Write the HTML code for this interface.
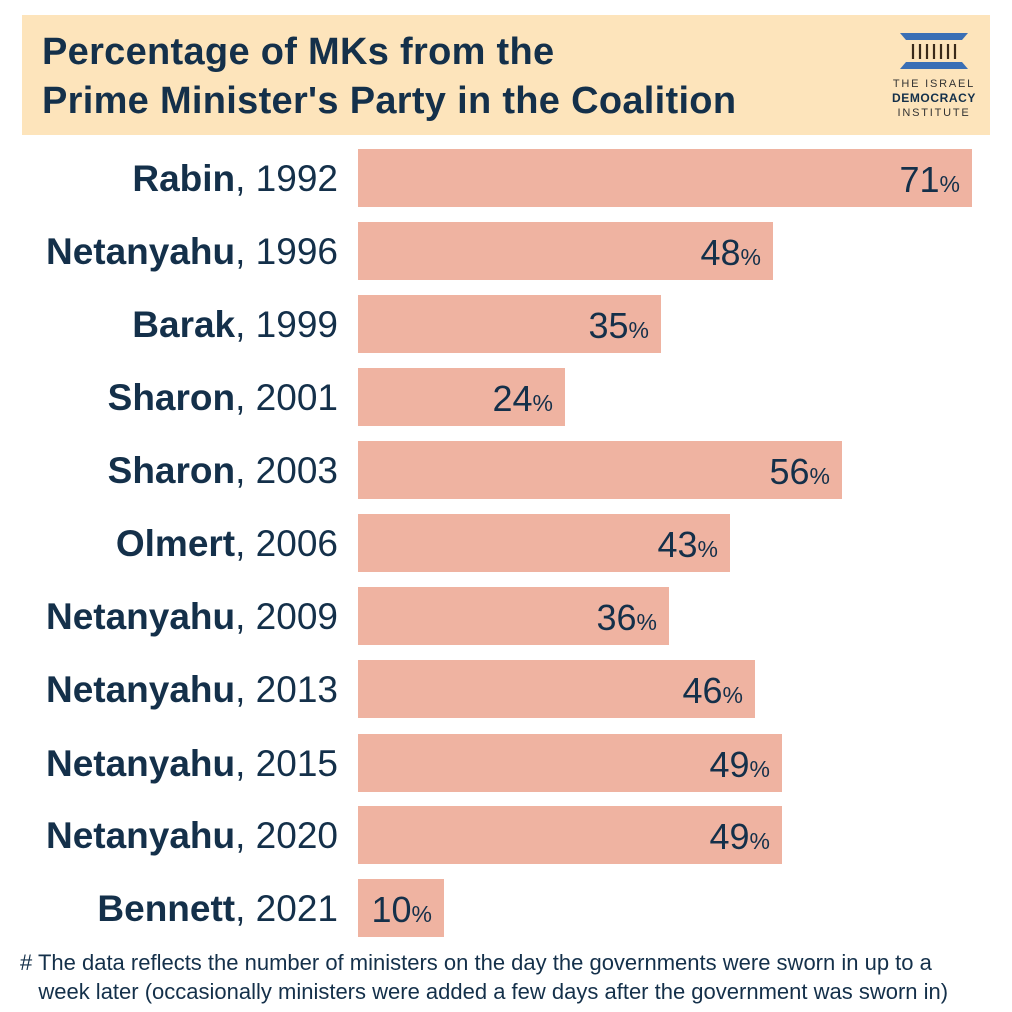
<!DOCTYPE html>
<html><head><meta charset="utf-8"><style>
body{margin:0;width:1012px;height:1012px;background:#fff;font-family:"Liberation Sans",sans-serif;color:#14304a;position:relative;overflow:hidden}
.hdr{position:absolute;left:22px;top:15px;width:968px;height:120px;background:#fde4bb}
.t{position:absolute;left:20px;font-weight:bold;font-size:38px;white-space:nowrap;letter-spacing:0.3px}
.row{position:absolute;left:0;width:1012px;height:58px}
.lab{position:absolute;right:674px;top:0;line-height:60px;font-size:37px;white-space:nowrap}
.lab b{font-weight:bold}
.bar{position:absolute;left:358px;top:0;height:58px;background:#efb3a1}
.v{position:absolute;right:12px;top:0;line-height:62px;font-size:36px;white-space:nowrap}
.v small{font-size:23px}
.fn{position:absolute;left:20px;top:948px;font-size:22px;line-height:29px;white-space:nowrap}
</style></head><body>
<div class="hdr">
<div class="t" style="top:16px">Percentage of MKs from the</div>
<div class="t" style="top:65px">Prime Minister's Party in the Coalition</div>
<svg style="position:absolute;left:876px;top:16px" width="72" height="40">
<polygon points="2,2 70,2 64,9 8,9" fill="#3a6fb5"/>
<g stroke="#3a2a1a" stroke-width="2.2"><line x1="15" y1="13" x2="15" y2="28"/><line x1="22" y1="13" x2="22" y2="28"/><line x1="29" y1="13" x2="29" y2="28"/><line x1="36" y1="13" x2="36" y2="28"/><line x1="43" y1="13" x2="43" y2="28"/><line x1="50" y1="13" x2="50" y2="28"/><line x1="57" y1="13" x2="57" y2="28"/></g>
<polygon points="8,31 64,31 70,38 2,38" fill="#3a6fb5"/>
</svg>
<div style="position:absolute;left:866px;top:62px;width:92px;text-align:center;font-size:11px;line-height:14px;letter-spacing:1.8px;color:#333">THE ISRAEL<br><b style="color:#14304a;letter-spacing:0.6px;font-size:12px">DEMOCRACY</b><br>INSTITUTE</div>
</div>

<div class="row" style="top:149px"><div class="lab"><b>Rabin</b>, 1992</div><div class="bar" style="width:614px"><div class="v">71<small>%</small></div></div></div>
<div class="row" style="top:222px"><div class="lab"><b>Netanyahu</b>, 1996</div><div class="bar" style="width:415px"><div class="v">48<small>%</small></div></div></div>
<div class="row" style="top:295px"><div class="lab"><b>Barak</b>, 1999</div><div class="bar" style="width:303px"><div class="v">35<small>%</small></div></div></div>
<div class="row" style="top:368px"><div class="lab"><b>Sharon</b>, 2001</div><div class="bar" style="width:207px"><div class="v">24<small>%</small></div></div></div>
<div class="row" style="top:441px"><div class="lab"><b>Sharon</b>, 2003</div><div class="bar" style="width:484px"><div class="v">56<small>%</small></div></div></div>
<div class="row" style="top:514px"><div class="lab"><b>Olmert</b>, 2006</div><div class="bar" style="width:372px"><div class="v">43<small>%</small></div></div></div>
<div class="row" style="top:587px"><div class="lab"><b>Netanyahu</b>, 2009</div><div class="bar" style="width:311px"><div class="v">36<small>%</small></div></div></div>
<div class="row" style="top:660px"><div class="lab"><b>Netanyahu</b>, 2013</div><div class="bar" style="width:397px"><div class="v">46<small>%</small></div></div></div>
<div class="row" style="top:734px"><div class="lab"><b>Netanyahu</b>, 2015</div><div class="bar" style="width:424px"><div class="v">49<small>%</small></div></div></div>
<div class="row" style="top:806px"><div class="lab"><b>Netanyahu</b>, 2020</div><div class="bar" style="width:424px"><div class="v">49<small>%</small></div></div></div>
<div class="row" style="top:879px"><div class="lab"><b>Bennett</b>, 2021</div><div class="bar" style="width:86px"><div class="v">10<small>%</small></div></div></div>

<div class="fn"># The data reflects the number of ministers on the day the governments were sworn in up to a<br>&nbsp;&nbsp;&nbsp;week later (occasionally ministers were added a few days after the government was sworn in)</div>
</body></html>
